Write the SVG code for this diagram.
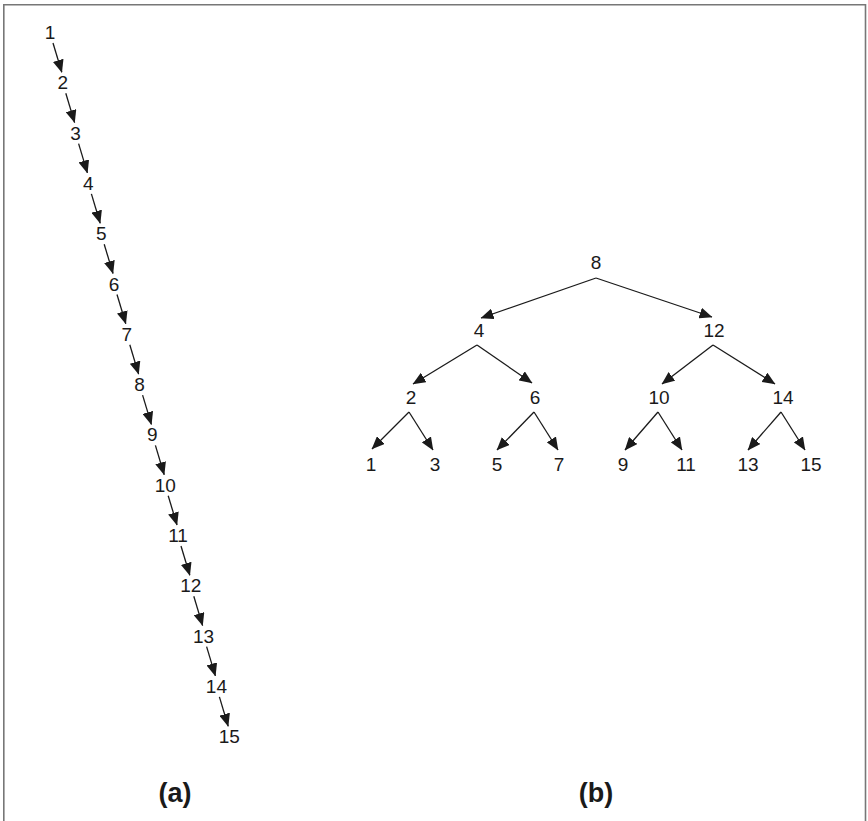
<svg xmlns="http://www.w3.org/2000/svg" width="868" height="821" viewBox="0 0 868 821">
<defs>
<marker id="ah" viewBox="0 0 13 11" refX="12.5" refY="5.5" markerWidth="13" markerHeight="11" markerUnits="userSpaceOnUse" orient="auto">
<path d="M0,0 L13,5.5 L0,11 z" fill="#1a1a1a"/>
</marker>
</defs>
<style>
.t{font-family:"Liberation Sans",Arial,sans-serif;font-size:19px;fill:#1a1a1a;text-anchor:middle}
.cap{font-family:"Liberation Sans",Arial,sans-serif;font-size:27px;font-weight:bold;fill:#1a1a1a;text-anchor:middle}
.e{stroke:#1a1a1a;stroke-width:1.3;fill:none;marker-end:url(#ah)}
</style>
<rect width="868" height="821" fill="#fff"/>
<path d="M3.8,821 V4.8 H865.5 V821" fill="none" stroke="#777" stroke-width="1.6"/>
<g id="chain-nodes">
<g id="a1"><text class="t" x="50" y="39">1</text></g>
<g id="a2"><text class="t" x="62.8" y="89.3">2</text></g>
<g id="a3"><text class="t" x="75.6" y="139.6">3</text></g>
<g id="a4"><text class="t" x="88.4" y="189.9">4</text></g>
<g id="a5"><text class="t" x="101.2" y="240.2">5</text></g>
<g id="a6"><text class="t" x="114" y="290.5">6</text></g>
<g id="a7"><text class="t" x="126.8" y="340.8">7</text></g>
<g id="a8"><text class="t" x="139.6" y="391.1">8</text></g>
<g id="a9"><text class="t" x="152.4" y="441.4">9</text></g>
<g id="a10"><text class="t" x="165.2" y="491.7">10</text></g>
<g id="a11"><text class="t" x="178" y="542">11</text></g>
<g id="a12"><text class="t" x="190.8" y="592.3">12</text></g>
<g id="a13"><text class="t" x="203.6" y="642.6">13</text></g>
<g id="a14"><text class="t" x="216.4" y="692.9">14</text></g>
<g id="a15"><text class="t" x="229.2" y="743.2">15</text></g>
</g>
<g id="chain-connectors">
<line class="e" x1="53" y1="43" x2="61.8" y2="72.3"/>
<line class="e" x1="65.8" y1="93.3" x2="74.6" y2="122.6"/>
<line class="e" x1="78.6" y1="143.6" x2="87.4" y2="172.9"/>
<line class="e" x1="91.4" y1="193.9" x2="100.2" y2="223.2"/>
<line class="e" x1="104.2" y1="244.2" x2="113" y2="273.5"/>
<line class="e" x1="117" y1="294.5" x2="125.8" y2="323.8"/>
<line class="e" x1="129.8" y1="344.8" x2="138.6" y2="374.1"/>
<line class="e" x1="142.6" y1="395.1" x2="151.4" y2="424.4"/>
<line class="e" x1="155.4" y1="445.4" x2="164.2" y2="474.7"/>
<line class="e" x1="168.2" y1="495.7" x2="177" y2="525"/>
<line class="e" x1="181" y1="546" x2="189.8" y2="575.3"/>
<line class="e" x1="193.8" y1="596.3" x2="202.6" y2="625.6"/>
<line class="e" x1="206.6" y1="646.6" x2="215.4" y2="675.9"/>
<line class="e" x1="219.4" y1="696.9" x2="228.2" y2="726.2"/>
</g>
<g id="tree-nodes">
<g id="b8"><text class="t" x="596" y="269">8</text></g>
<g id="b4"><text class="t" x="479" y="337">4</text></g>
<g id="b12"><text class="t" x="714" y="337">12</text></g>
<g id="b2"><text class="t" x="411" y="404">2</text></g>
<g id="b6"><text class="t" x="535" y="404">6</text></g>
<g id="b10"><text class="t" x="659" y="404">10</text></g>
<g id="b14"><text class="t" x="783" y="404">14</text></g>
<g id="b1"><text class="t" x="371" y="471">1</text></g>
<g id="b3"><text class="t" x="435" y="471">3</text></g>
<g id="b5"><text class="t" x="497" y="471">5</text></g>
<g id="b7"><text class="t" x="559" y="471">7</text></g>
<g id="b9"><text class="t" x="623" y="471">9</text></g>
<g id="b11"><text class="t" x="686" y="471">11</text></g>
<g id="b13"><text class="t" x="748" y="471">13</text></g>
<g id="b15"><text class="t" x="811" y="471">15</text></g>
</g>
<g id="tree-connectors">
<line class="e" x1="596" y1="278" x2="481" y2="318"/>
<line class="e" x1="596" y1="278" x2="712" y2="317"/>
<line class="e" x1="477" y1="345" x2="413" y2="384"/>
<line class="e" x1="477" y1="345" x2="532" y2="383"/>
<line class="e" x1="713" y1="345" x2="662" y2="384"/>
<line class="e" x1="713" y1="345" x2="775" y2="384"/>
<line class="e" x1="409" y1="412" x2="372" y2="449"/>
<line class="e" x1="409" y1="412" x2="433" y2="450"/>
<line class="e" x1="534" y1="412" x2="497" y2="450"/>
<line class="e" x1="534" y1="412" x2="558" y2="450"/>
<line class="e" x1="658" y1="412" x2="625" y2="450"/>
<line class="e" x1="658" y1="412" x2="682" y2="450"/>
<line class="e" x1="781" y1="412" x2="748" y2="450"/>
<line class="e" x1="781" y1="412" x2="805" y2="450"/>
</g>
<g id="captions">
<text class="cap" x="175" y="802">(a)</text>
<text class="cap" x="596" y="802">(b)</text>
</g>
</svg>
